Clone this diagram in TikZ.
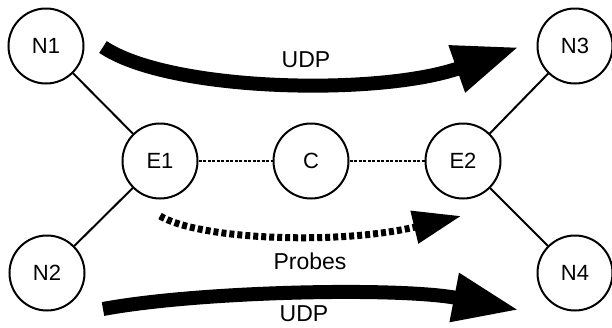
\documentclass[tikz,border=0pt]{standalone}
\usepackage{fontspec}
\setmainfont{Liberation Sans}
\usetikzlibrary{arrows.meta}

\tikzset{
  host/.style={circle, draw, line width=2pt, minimum size=75pt, inner sep=0pt,
    font=\fontsize{22}{26}\selectfont},
  link/.style={line width=2pt},
  flow/.style={line width=14pt, -{Triangle[length=66pt,width=46pt]}},
  probeflow/.style={line width=7pt, dash pattern=on 5pt off 3pt,
    -{Triangle[length=48pt,width=32pt]}},
  flowlabel/.style={font=\fontsize{23}{27}\selectfont}
}

\begin{document}
\begin{tikzpicture}[x=1pt,y=-1pt]
  \useasboundingbox (0,0) rectangle (612,327);

  % Draw hosts and edge routers
  \node[host] (n1) at (46,46) {N1};
  \node[host] (n2) at (47,273) {N2};
  \node[host] (n3) at (575,46) {N3};
  \node[host] (n4) at (575,273) {N4};
  \node[host] (e1) at (160,161) {E1};
  \node[host] (c) at (311,161) {C};
  \node[host] (e2) at (463,161) {E2};

  % Draw links
  \draw[link] (n1) -- (e1);
  \draw[link] (n2) -- (e1);
  \draw[link] (e2) -- (n3);
  \draw[link] (e2) -- (n4);
  \draw[link, dash pattern=on 3pt off 1.5pt] (e1) -- (c);
  \draw[link, dash pattern=on 3pt off 1.5pt] (c) -- (e2);

  % Draw flows
  \coordinate (udpa) at (103,47);
  \coordinate (udpb) at (519,47);
  \coordinate (proa) at (160,216);
  \coordinate (prob) at (461,216);
  \coordinate (udpc) at (103,309);
  \coordinate (udpd) at (519,310);
  \draw[flow] (udpa) .. controls (170,92) and (380,96) .. (udpb);
  \draw[probeflow] (proa) .. controls (200,240) and (340,245) .. (prob);
  \draw[flow] (udpc) .. controls (200,291) and (400,287) .. (udpd);

  % Label flows
  \node[flowlabel] (udptop) at (306,60) {UDP};
  \node[flowlabel] (probes) at (310,261) {Probes};
  \node[flowlabel] (udpbot) at (304,314) {UDP};
\end{tikzpicture}
\end{document}
